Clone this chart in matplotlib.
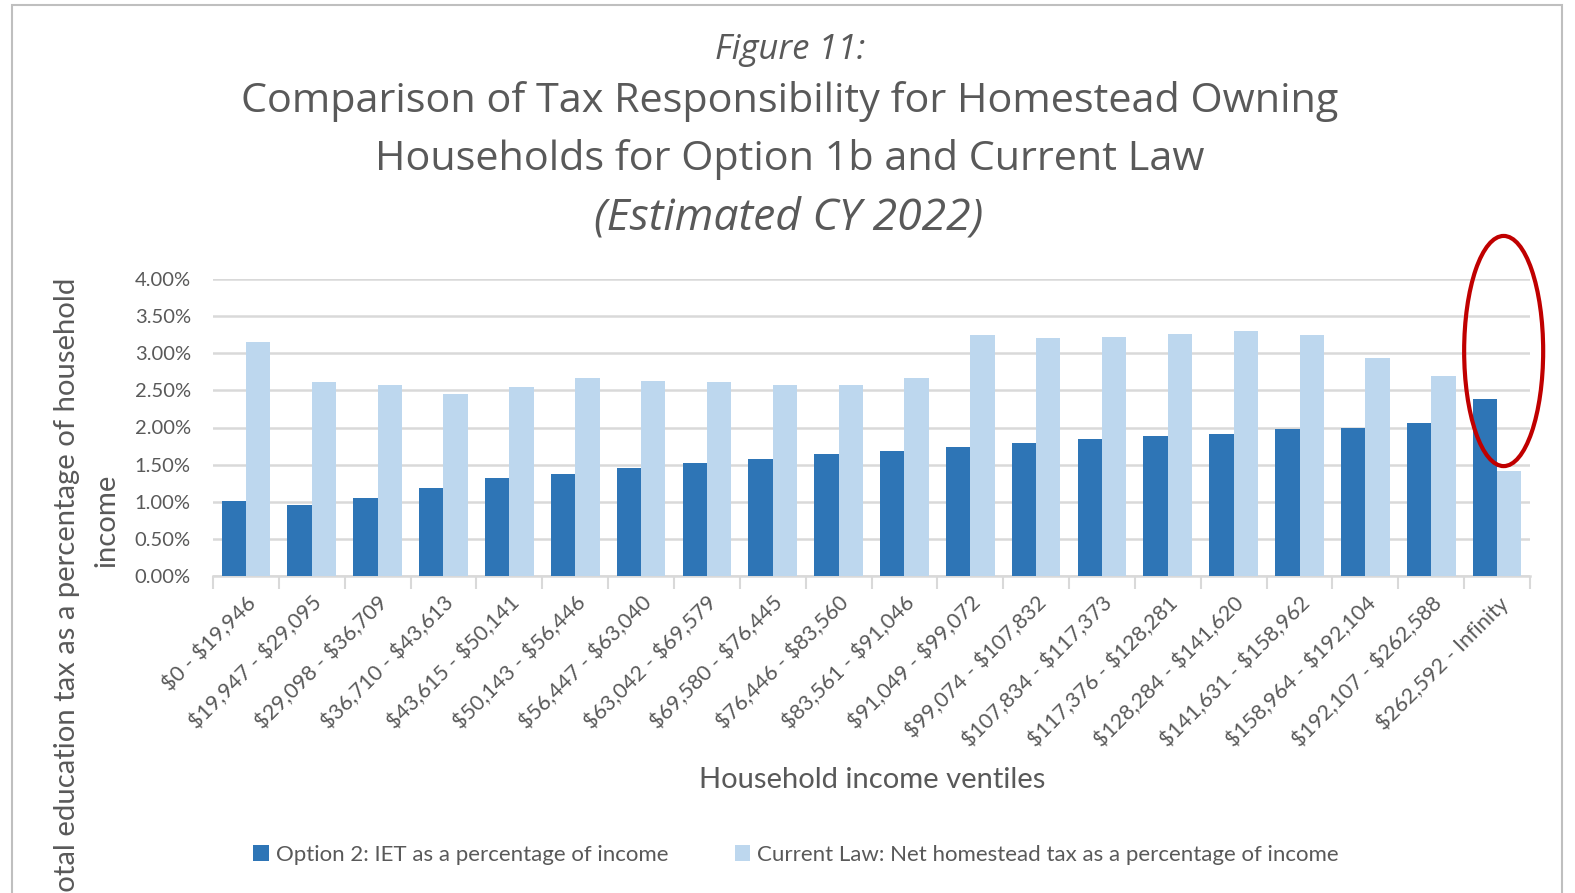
import matplotlib
matplotlib.use("Agg")
import numpy as np
from matplotlib import pyplot as plt
from matplotlib.patches import Ellipse, Rectangle

# income ventiles and tax shares (percent of household income)
ventiles = [
    "$0 - $19,946", "$19,947 - $29,095", "$29,098 - $36,709",
    "$36,710 - $43,613", "$43,615 - $50,141", "$50,143 - $56,446",
    "$56,447 - $63,040", "$63,042 - $69,579", "$69,580 - $76,445",
    "$76,446 - $83,560", "$83,561 - $91,046", "$91,049 - $99,072",
    "$99,074 - $107,832", "$107,834 - $117,373", "$117,376 - $128,281",
    "$128,284 - $141,620", "$141,631 - $158,962", "$158,964 - $192,104",
    "$192,107 - $262,588", "$262,592 - Infinity",
]
option2_iet = [1.01, 0.96, 1.05, 1.18, 1.32, 1.38, 1.45, 1.52, 1.58, 1.645,
               1.69, 1.735, 1.79, 1.85, 1.88, 1.91, 1.98, 2.00, 2.06, 2.38]
current_law = [3.15, 2.61, 2.57, 2.45, 2.54, 2.67, 2.62, 2.61, 2.57, 2.57,
               2.665, 3.25, 3.21, 3.22, 3.26, 3.30, 3.245, 2.935, 2.69, 1.42]
y_ticks = [0.0, 0.5, 1.0, 1.5, 2.0, 2.5, 3.0, 3.5, 4.0]

W, H = 1575, 893
DARK = "#2E75B6"
LIGHT = "#BDD7EE"
GREY = "#595959"
GRID = "#D9D9D9"

# plain dollar signs, no mathtext
plt.rcParams["text.parse_math"] = False


def px(x, y):
    """pixel position (top-left origin) -> figure fraction"""
    return x / W, 1 - y / H


fig = plt.figure(figsize=(W / 100, H / 100), dpi=100)

# outer chart frame
fig.patches.append(Rectangle(px(12, 1000), (1562 - 12) / W, (1000 - 5) / H,
                             transform=fig.transFigure, fill=False,
                             edgecolor="#BFBFBF", linewidth=1.5))

left, top, right, bottom = 213, 279, 1530, 576
ax = fig.add_axes([left / W, 1 - bottom / H, (right - left) / W,
                   (bottom - top) / H])

x = np.arange(len(ventiles))
bw = 0.37
ax.bar(x - bw / 2, option2_iet, bw, color=DARK, zorder=3,
       label="Option 2: IET as a percentage of income")
ax.bar(x + bw / 2, current_law, bw, color=LIGHT, zorder=3,
       label="Current Law: Net homestead tax as a percentage of income")

ax.set_xlim(-0.5, len(ventiles) - 0.5)
ax.set_ylim(0, 4)
ax.set_yticks(y_ticks)
ax.set_yticklabels([f"{v:.2f}%" for v in y_ticks], fontsize=14.5,
                   color=GREY, family="Lato")
ax.yaxis.grid(True, color=GRID, linewidth=1.8, zorder=0)
ax.tick_params(axis="y", length=0, pad=16)

for s in ["top", "right", "left"]:
    ax.spines[s].set_visible(False)
ax.spines["bottom"].set_color(GRID)
ax.spines["bottom"].set_linewidth(1.8)

# category boundary ticks below the axis
ax.set_xticks(np.arange(-0.5, len(ventiles)))
ax.set_xticklabels([])
ax.tick_params(axis="x", which="major", length=9, width=1.5, color=GRID)
ax.set_xticks(x, minor=True)
ax.set_xticklabels(ventiles, minor=True, rotation=45, ha="right",
                   va="top", rotation_mode="anchor", fontsize=15.5,
                   color=GREY, family="Lato")
ax.tick_params(axis="x", which="minor", length=0, pad=12)

# highlight around the top ventile
ax.add_patch(Ellipse((19.1, 3.03), 1.2, 3.1, fill=False, edgecolor="#C00000",
                     linewidth=3, clip_on=False, zorder=5))

# titles
fig.text(*px(790, 50), "Figure 11:", ha="center", va="center",
         fontsize=25, style="italic", color=GREY, family="Open Sans")
fig.text(*px(790, 102), "Comparison of Tax Responsibility for Homestead Owning",
         ha="center", va="center", fontsize=29.8, color=GREY, family="Open Sans")
fig.text(*px(790, 160), "Households for Option 1b and Current Law",
         ha="center", va="center", fontsize=29.8, color=GREY, family="Open Sans")
fig.text(*px(789, 218), "(Estimated CY 2022)", ha="center", va="center",
         fontsize=32, style="italic", color=GREY, family="Open Sans")

fig.text(*px(872, 780), "Household income ventiles", ha="center",
         va="center", fontsize=21, color=GREY, family="Lato")

# y axis title runs past the lower edge of the chart
fig.text(*px(67, 278), "Total education tax as a percentage of household",
         ha="center", va="top", rotation=90, fontsize=21.1, color=GREY,
         family="Lato")
fig.text(*px(106, 520), "income", ha="center", va="center", rotation=90,
         fontsize=21.1, color=GREY, family="Lato")

leg = fig.legend(loc="center", bbox_to_anchor=px(796, 855), ncol=2,
                 frameon=False, handlelength=0.7, handleheight=0.7,
                 handletextpad=0.3, columnspacing=3.0,
                 prop={"family": "Lato", "size": 16})
for t in leg.get_texts():
    t.set_color(GREY)

fig.savefig("out.png", dpi=100)
